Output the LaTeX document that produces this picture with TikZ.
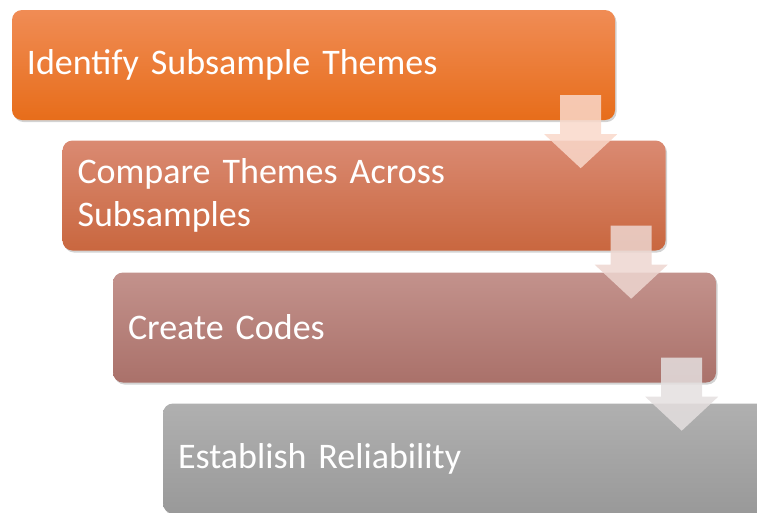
\documentclass[tikz,border=0pt]{standalone}
\usepackage{fontspec}
\setmainfont{Carlito}
\usetikzlibrary{shadows}

\definecolor{orangetop}{HTML}{F08C55}
\definecolor{orangebot}{HTML}{E76D1A}
\definecolor{rusttop}{HTML}{DA8A72}
\definecolor{rustbot}{HTML}{C9673F}
\definecolor{rosetop}{HTML}{C3928C}
\definecolor{rosebot}{HTML}{AA716A}
\definecolor{greytop}{HTML}{B0B0B0}
\definecolor{greybot}{HTML}{999999}
\definecolor{orangetint}{HTML}{F9D8CA}
\definecolor{rusttint}{HTML}{EDD6D0}
\definecolor{rosetint}{HTML}{E4DFDF}

\begin{document}
\begin{tikzpicture}[x=1pt,y=-1pt]

\tikzset{stage/.style = {shape=rectangle, rounded corners=10pt, text=white,
  text width=573pt, inner xsep=15pt, minimum height=110pt, align=left,
  font=\fontsize{36}{43}\selectfont,
  drop shadow={shadow xshift=1.5pt, shadow yshift=-2pt, opacity=0.35}}}
\tikzset{downarrow/.style = {fill opacity=0.85}}

\useasboundingbox (0,0) rectangle (757,512);
\clip (0,0) rectangle (757,512);

%stages
\node[stage, top color=orangetop, bottom color=orangebot] (b1) at (313.5,65) {Identify Subsample Themes};
\node[stage, top color=rusttop, bottom color=rustbot] (b2) at (364,195.5) {Compare Themes Across\\Subsamples};
\node[stage, top color=rosetop, bottom color=rosebot] (b3) at (414.5,327.5) {Create Codes};
\node[stage, top color=greytop, bottom color=greybot] (b4) at (464.5,458.5) {Establish Reliability};

%arrows
\foreach \a/\c in {b1/orangetint, b2/rusttint, b3/rosetint}
  \path[downarrow, fill=\c] (\a.south east) ++(-55,-25) -- ++(41,0) -- ++(0,39) -- ++(16,0)
    -- ++(-36.5,34) -- ++(-36.5,-34) -- ++(16,0) -- cycle;

\end{tikzpicture}
\end{document}
